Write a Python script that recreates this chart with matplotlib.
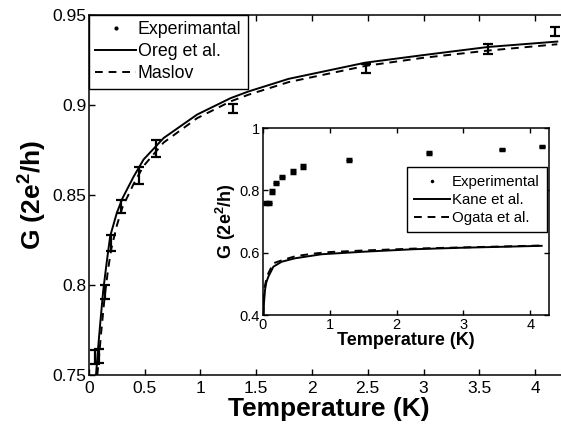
import matplotlib
matplotlib.use("Agg")
import matplotlib.pyplot as plt
from matplotlib.lines import Line2D

# experimental points (same data in main plot and inset)
T_exp = [0.05, 0.09, 0.14, 0.20, 0.29, 0.45, 0.60, 1.29, 2.48, 3.58, 4.18]
G_exp = [0.760, 0.7605, 0.7958, 0.8232, 0.8436, 0.8607, 0.8756, 0.8978, 0.9203, 0.931, 0.9407]
G_err = [0.0037, 0.0037, 0.0039, 0.0042, 0.0036, 0.0047, 0.0047, 0.0025, 0.0025, 0.0028, 0.0025]

# theory curves, main panel
T_oreg = [0.063, 0.078, 0.10, 0.128, 0.16, 0.19, 0.25, 0.30, 0.40, 0.49, 0.67, 0.97,
          1.27, 1.43, 1.79, 2.48, 3.0, 3.58, 4.2]
G_oreg = [0.750, 0.762, 0.778, 0.797, 0.813, 0.827, 0.840, 0.848, 0.860, 0.8696, 0.8815, 0.8945,
          0.9036, 0.9073, 0.9143, 0.9233, 0.9275, 0.932, 0.935]
T_maslov = [0.075, 0.09, 0.11, 0.14, 0.17, 0.20, 0.25, 0.30, 0.40, 0.49, 0.67, 0.97,
            1.27, 1.43, 1.79, 2.48, 3.0, 3.58, 4.2]
G_maslov = [0.750, 0.760, 0.774, 0.793, 0.808, 0.820, 0.833, 0.843, 0.856, 0.866, 0.879, 0.8925,
            0.9018, 0.9055, 0.9125, 0.9215, 0.926, 0.930, 0.9335]

# theory curves, inset
T_kane = [0.008, 0.015, 0.03, 0.05, 0.08, 0.155, 0.28, 0.48, 0.88, 1.5, 2.25, 3.0, 3.6, 4.17]
G_kane = [0.40, 0.44, 0.48, 0.505, 0.523, 0.555, 0.571, 0.582, 0.595, 0.603, 0.611, 0.616, 0.619, 0.622]
T_ogata = [0.005, 0.012, 0.025, 0.05, 0.08, 0.155, 0.33, 0.5, 0.8, 1.0, 1.5, 2.25, 3.0, 3.6, 4.17]
G_ogata = [0.40, 0.45, 0.49, 0.515, 0.534, 0.566, 0.579, 0.5895, 0.598, 0.602, 0.607, 0.613, 0.617, 0.620, 0.623]

main_xticks = [0, 0.5, 1, 1.5, 2, 2.5, 3, 3.5, 4]
main_xlabels = ["0", "0.5", "1", "1.5", "2", "2.5", "3", "3.5", "4"]
main_yticks = [0.75, 0.8, 0.85, 0.9, 0.95]
main_ylabels = ["0.75", "0.8", "0.85", "0.9", "0.95"]
inset_xticks = [0, 1, 2, 3, 4]
inset_yticks = [0.4, 0.6, 0.8, 1.0]
inset_ylabels = ["0.4", "0.6", "0.8", "1"]

plt.rcParams['font.family'] = ['Liberation Sans', 'DejaVu Sans']
plt.rcParams['mathtext.fontset'] = 'custom'
plt.rcParams['mathtext.rm'] = 'Liberation Sans'
plt.rcParams['mathtext.bf'] = 'Liberation Sans:bold'

fig = plt.figure(figsize=(5.61, 4.28), dpi=100)
dash = (0, (4, 3))

# main axes (right edge runs off the figure like the cropped original)
ax = fig.add_axes([0.1586, 0.1238, 0.8547, 0.8423])
ax.plot(T_oreg, G_oreg, color='k', lw=1.4)
ax.plot(T_maslov, G_maslov, color='k', lw=1.4, linestyle=dash)
ax.errorbar(T_exp, G_exp, yerr=G_err, fmt='none', ecolor='k', elinewidth=1.6,
            capsize=3.6, capthick=1.6)
ax.set_xlim(0, 4.3)
ax.set_ylim(0.75, 0.95)
ax.set_xticks(main_xticks)
ax.set_xticklabels(main_xlabels)
ax.set_yticks(main_yticks)
ax.set_yticklabels(main_ylabels)
ax.tick_params(direction='in', length=4, width=1, top=True, right=True,
               labelsize=12.5, pad=2)
ax.tick_params(axis='x', pad=4)
for s in ax.spines.values():
    s.set_linewidth(1.1)
ax.set_xlabel('Temperature (K)', fontsize=19, fontweight='bold', labelpad=1)
ax.set_ylabel(r'G (2e$^{\mathbf{2}}$/h)', fontsize=19, fontweight='bold', labelpad=3)

handles = [Line2D([], [], color='k', marker='.', markersize=4, linestyle='none'),
           Line2D([], [], color='k', lw=1.4),
           Line2D([], [], color='k', lw=1.4, linestyle=dash)]
leg = ax.legend(handles, ['Experimantal', 'Oreg et al.', 'Maslov'], loc='upper left',
                bbox_to_anchor=(0, 1), borderaxespad=0, fontsize=12.8, fancybox=False,
                framealpha=1, edgecolor='k', handlelength=2.3, handletextpad=0.1,
                labelspacing=0.3, borderpad=0.35)
leg.get_frame().set_linewidth(1.0)

# inset
ins = fig.add_axes([0.4688, 0.2640, 0.5098, 0.4369])
ins.plot(T_kane, G_kane, color='k', lw=1.4)
ins.plot(T_ogata, G_ogata, color='k', lw=1.4, linestyle=dash)
ins.errorbar(T_exp, G_exp, yerr=G_err, fmt='none', ecolor='k', elinewidth=2.5,
             capsize=2.5, capthick=2.5)
ins.set_xlim(0, 4.28)
ins.set_ylim(0.4, 1.0)
ins.set_xticks(inset_xticks)
ins.set_yticks(inset_yticks)
ins.set_yticklabels(inset_ylabels)
ins.tick_params(direction='in', length=3.5, width=1, top=True, right=True,
                labelsize=10.5, pad=2)
for s in ins.spines.values():
    s.set_linewidth(1.1)
ins.set_xlabel('Temperature (K)', fontsize=13, fontweight='bold', labelpad=0)
ins.set_ylabel(r'G (2e$^{\mathbf{2}}$/h)', fontsize=13, fontweight='bold', labelpad=1)

handles2 = [Line2D([], [], color='k', marker='.', markersize=3, linestyle='none'),
            Line2D([], [], color='k', lw=1.4),
            Line2D([], [], color='k', lw=1.4, linestyle=dash)]
leg2 = ins.legend(handles2, ['Experimental', 'Kane et al.', 'Ogata et al.'], loc='upper right',
                  bbox_to_anchor=(0.993, 0.79), borderaxespad=0, fontsize=10.8, fancybox=False,
                  framealpha=1, edgecolor='k', handlelength=2.4, handletextpad=0.1,
                  labelspacing=0.27, borderpad=0.5)
leg2.get_frame().set_linewidth(1.0)

fig.savefig('out.png', dpi=100)
